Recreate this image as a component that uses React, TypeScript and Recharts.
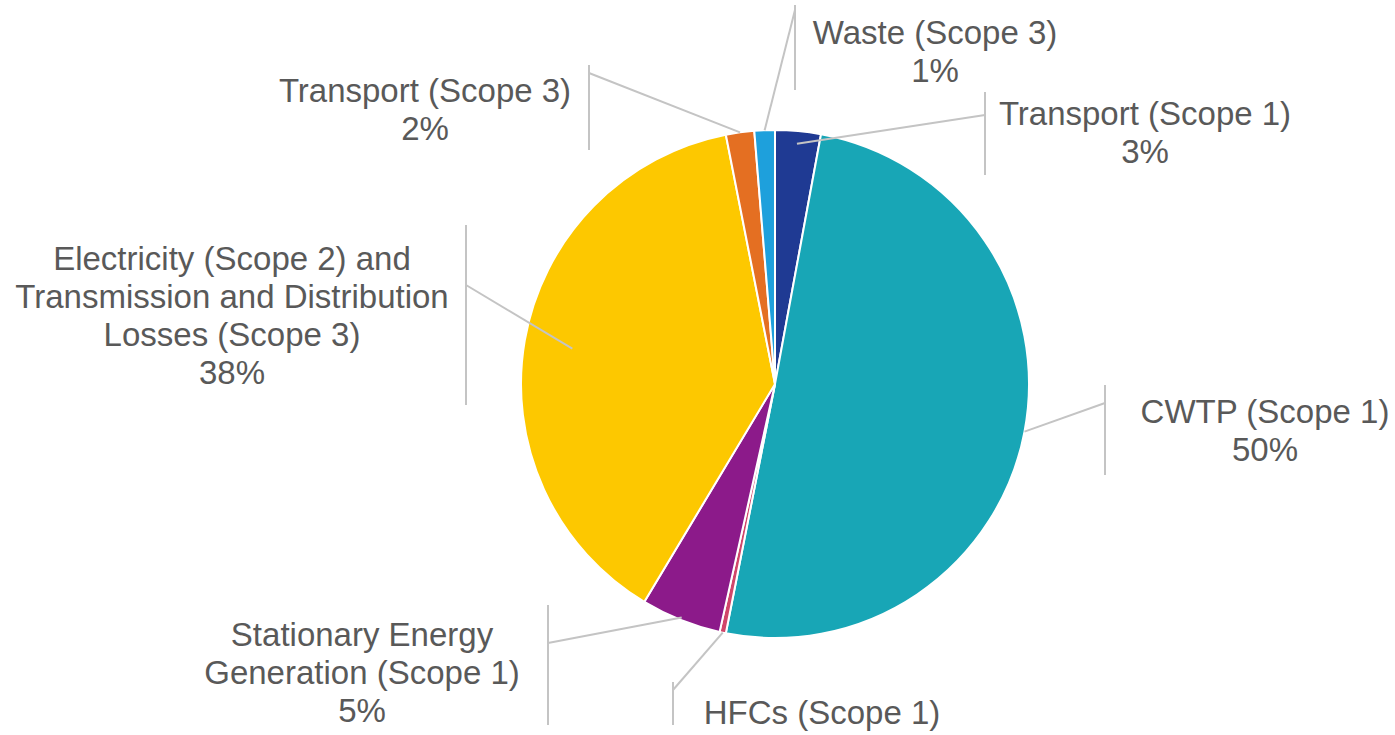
import React from 'react';
import { PieChart, Pie, Cell } from 'recharts';

const categories = [
	'Transport (Scope 1)',
	'CWTP (Scope 1)',
	'HFCs (Scope 1)',
	'Stationary Energy Generation (Scope 1)',
	'Electricity (Scope 2) and Transmission and Distribution Losses (Scope 3)',
	'Transport (Scope 3)',
	'Waste (Scope 3)',
];
const shares = [2.9, 50.2, 0.4, 5.1, 38.3, 1.8, 1.3];
const labelText = [
	['Transport (Scope 1)'],
	['CWTP (Scope 1)'],
	['HFCs (Scope 1)'],
	['Stationary Energy', 'Generation (Scope 1)'],
	['Electricity (Scope 2) and', 'Transmission and Distribution', 'Losses (Scope 3)'],
	['Transport (Scope 3)'],
	['Waste (Scope 3)'],
];
const showPercent = [true, true, false, true, true, true, true];
const colors = ['#1f3a93', '#18a6b6', '#d0466a', '#8c1a8a', '#fdc800', '#e46f22', '#1ea0dc'];

const data = categories.map((name, i) => ({ name, value: shares[i] }));

// where each data label sits (text centre, leader bar), Excel style
const layout = [
	{ tx: 1145, ty: 113, bx: 985, b1: 92, b2: 175, ly: 115, r: 0.95 },
	{ tx: 1265, ty: 411, bx: 1105, b1: 385, b2: 475, ly: 403, r: 1 },
	{ tx: 822, ty: 712, bx: 673, b1: 682, b2: 725, ly: 690, r: 1 },
	{ tx: 362, ty: 634, bx: 548, b1: 605, b2: 725, ly: 643, r: 0.99 },
	{ tx: 232, ty: 258, bx: 466, b1: 225, b2: 405, ly: 285, r: 0.81 },
	{ tx: 425, ty: 90, bx: 589, b1: 65, b2: 150, ly: 73, r: 1 },
	{ tx: 935, ty: 32, bx: 795, b1: 5, b2: 90, ly: 10, r: 1 },
];

const RAD = Math.PI / 180;

const renderLabel = (props: any) => {
	const { cx, cy, midAngle, outerRadius, index, percent } = props;
	const l = layout[index];
	const r = outerRadius * l.r;
	const ax = cx + r * Math.cos(-midAngle * RAD);
	const ay = cy + r * Math.sin(-midAngle * RAD);
	const lines = showPercent[index]
		? [...labelText[index], `${Math.round(percent * 100)}%`]
		: labelText[index];
	return (
		<g key={`lbl-${index}`}>
			<line x1={ax} y1={ay} x2={l.bx} y2={l.ly} stroke="#c4c4c4" strokeWidth={2} />
			<line x1={l.bx} y1={l.b1} x2={l.bx} y2={l.b2} stroke="#c4c4c4" strokeWidth={2} />
			<text
				x={l.tx}
				y={l.ty}
				textAnchor="middle"
				fill="#595959"
				fontSize={33}
				fontFamily="'Liberation Sans', Arial, sans-serif"
			>
				{lines.map((t, j) => (
					<tspan key={j} x={l.tx} y={l.ty + j * 38} dominantBaseline="central">
						{t}
					</tspan>
				))}
			</text>
		</g>
	);
};

const App = () => {
	return (
		<div style={{ position: 'absolute', left: 0, top: 0, background: '#fff' }}>
			<PieChart width={1395} height={735} margin={{ top: 0, right: 0, bottom: 0, left: 0 }}>
				<Pie
					data={data}
					dataKey="value"
					nameKey="name"
					cx={775}
					cy={384}
					outerRadius={254}
					startAngle={90}
					endAngle={-270}
					stroke="#ffffff"
					strokeWidth={2}
					label={renderLabel}
					labelLine={false}
					isAnimationActive={false}
				>
					{data.map((d, i) => (
						<Cell key={d.name} fill={colors[i]} />
					))}
				</Pie>
			</PieChart>
		</div>
	);
};

export default App;
